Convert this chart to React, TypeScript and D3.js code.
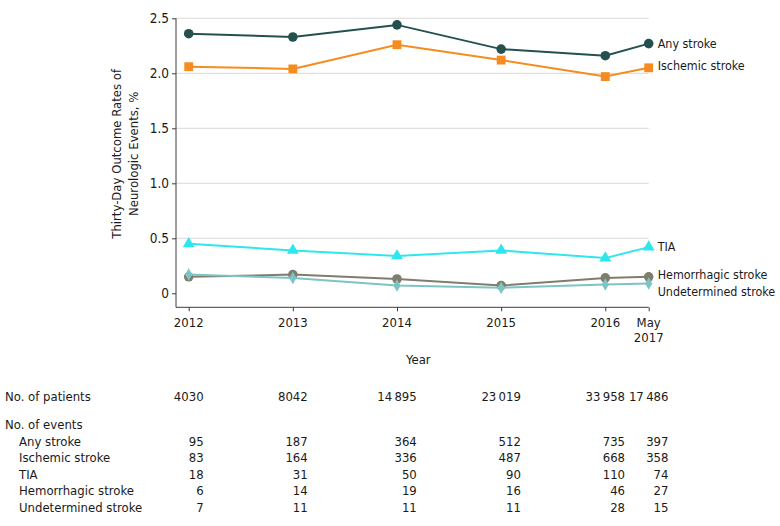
import React, { useEffect, useRef } from "react";
import * as d3 from "d3";

// x positions: calendar years, last point is May 2017
const years = [2012, 2013, 2014, 2015, 2016, 2016 + 5 / 12];
const yearLabels = [["2012"], ["2013"], ["2014"], ["2015"], ["2016"], ["May", "2017"]];
const yTicks = [0, 0.5, 1, 1.5, 2, 2.5];

const seriesNames = ["Any stroke", "Ischemic stroke", "TIA", "Hemorrhagic stroke", "Undetermined stroke"];
const anyStroke = [2.36, 2.33, 2.44, 2.22, 2.16, 2.27];
const ischemicStroke = [2.06, 2.04, 2.26, 2.12, 1.97, 2.05];
const tia = [0.45, 0.39, 0.34, 0.39, 0.32, 0.42];
const hemorrhagicStroke = [0.15, 0.17, 0.13, 0.07, 0.14, 0.15];
const undeterminedStroke = [0.17, 0.14, 0.07, 0.05, 0.08, 0.09];

const patients = ["4030", "8042", "14\u2009895", "23\u2009019", "33\u2009958", "17\u2009486"];
const eventsAny = [95, 187, 364, 512, 735, 397];
const eventsIschemic = [83, 164, 336, 487, 668, 358];
const eventsTia = [18, 31, 50, 90, 110, 74];
const eventsHemorrhagic = [6, 14, 19, 16, 46, 27];
const eventsUndetermined = [7, 11, 11, 11, 28, 15];

const FONT = "'DejaVu Sans Condensed', 'Liberation Sans Narrow', 'DejaVu Sans', sans-serif";

function App() {
  const ref = useRef<SVGSVGElement | null>(null);

  useEffect(() => {
    const svg = d3.select(ref.current);
    svg.selectAll("*").remove();

    const width = 780, height = 526;
    const left = 176, top = 18.3, bottom = 293.3, axisY = 307.3;

    const x = d3.scaleLinear().domain([2012, years[5]]).range([188.7, 648.7]);
    const y = d3.scaleLinear().domain([0, 2.5]).range([bottom, top]);
    const right = x(years[5]);

    const g = svg.append("g").attr("font-family", FONT).attr("fill", "#1a1a1a");

    // grid
    g.append("g")
      .selectAll("line")
      .data(yTicks.filter(d => d > 0))
      .join("line")
      .attr("x1", left).attr("x2", right)
      .attr("y1", d => y(d)).attr("y2", d => y(d))
      .attr("stroke", "#d9d9d9").attr("stroke-width", 1);

    // axes
    const yAxis = d3.axisLeft(y).tickValues(yTicks).tickSize(4).tickPadding(3)
      .tickFormat(d => (d === 0 ? "0" : (+d).toFixed(1)));
    const ya = g.append("g").attr("transform", `translate(${left},0)`).call(yAxis);
    ya.select(".domain").remove();
    ya.selectAll("line").attr("stroke", "#3c3c3c");
    ya.selectAll("text").attr("font-family", FONT).attr("font-size", 13.5).attr("fill", "#1a1a1a");

    const xAxis = d3.axisBottom(x).tickValues(years).tickSize(4).tickFormat(() => "");
    const xa = g.append("g").attr("transform", `translate(0,${axisY})`).call(xAxis);
    xa.select(".domain").remove();
    xa.selectAll("line").attr("stroke", "#3c3c3c");

    g.append("path")
      .attr("d", `M${left},${top}V${axisY}H${right}`)
      .attr("fill", "none").attr("stroke", "#3c3c3c").attr("stroke-width", 1);

    // x tick labels
    years.forEach((yr, i) => {
      yearLabels[i].forEach((t, j) => {
        g.append("text")
          .attr("x", x(yr)).attr("y", 326.5 + j * 15)
          .attr("text-anchor", "middle").attr("font-size", 13)
          .text(t);
      });
    });

    g.append("text")
      .attr("x", (left + right) / 2 + 6).attr("y", 363.5)
      .attr("text-anchor", "middle").attr("font-size", 13)
      .text("Year");

    const yTitle = g.append("text")
      .attr("transform", `translate(0,${(top + bottom) / 2}) rotate(-90)`)
      .attr("text-anchor", "middle").attr("font-size", 13);
    yTitle.append("tspan").attr("x", 0).attr("y", 121).attr("dx", 2).text("Thirty-Day Outcome Rates of");
    yTitle.append("tspan").attr("x", 0).attr("y", 137.5).attr("dx", 2).text("Neurologic Events, %");

    // series
    const series = [
      { name: seriesNames[0], values: anyStroke, color: "#24514f", symbol: d3.symbolCircle, size: 72, nudge: 0 },
      { name: seriesNames[1], values: ischemicStroke, color: "#f68b1f", symbol: d3.symbolSquare, size: 78, nudge: -2.5 },
      { name: seriesNames[2], values: tia, color: "#2de6ee", symbol: d3.symbolTriangle, size: 62, nudge: 0 },
      { name: seriesNames[3], values: hemorrhagicStroke, color: "#7f7d6d", symbol: d3.symbolCircle, size: 72, nudge: -2 },
      { name: seriesNames[4], values: undeterminedStroke, color: "#7dc4c4", symbol: d3.symbolDiamond, size: 45, nudge: 8 },
    ];

    const line = d3.line<number>().x((_, i) => x(years[i])).y(d => y(d));

    series.forEach(s => {
      const sg = g.append("g");
      sg.append("path")
        .datum(s.values)
        .attr("d", line)
        .attr("fill", "none")
        .attr("stroke", s.color)
        .attr("stroke-width", 2);
      sg.selectAll("path.m")
        .data(s.values)
        .join("path")
        .attr("class", "m")
        .attr("transform", (d, i) => `translate(${x(years[i])},${y(d)})`)
        .attr("d", d3.symbol().type(s.symbol).size(s.size)())
        .attr("fill", s.color);
      sg.append("text")
        .attr("x", right + 9)
        .attr("y", y(s.values[5]) + s.nudge)
        .attr("dy", "0.35em")
        .attr("font-size", 12.4)
        .text(s.name);
    });

    // table
    const rowY = 396;
    g.append("text").attr("x", 5).attr("y", rowY).attr("dy", "0.35em").attr("font-size", 13).text("No. of patients");
    g.append("text").attr("x", 5).attr("y", 424.5).attr("dy", "0.35em").attr("font-size", 13).text("No. of events");

    const colRight: number[] = [];
    patients.forEach((p, i) => {
      const t = g.append("text")
        .attr("x", x(years[i])).attr("y", rowY).attr("dy", "0.35em")
        .attr("text-anchor", "middle").attr("font-size", 13)
        .text(p);
      const w = (t.node() as SVGTextElement).getComputedTextLength();
      colRight.push(x(years[i]) + w / 2);
    });

    const eventRows = [eventsAny, eventsIschemic, eventsTia, eventsHemorrhagic, eventsUndetermined];
    eventRows.forEach((row, r) => {
      const ry = 441 + r * 16.6;
      g.append("text").attr("x", 19).attr("y", ry).attr("dy", "0.35em").attr("font-size", 13).text(seriesNames[r]);
      row.forEach((v, i) => {
        g.append("text")
          .attr("x", colRight[i]).attr("y", ry).attr("dy", "0.35em")
          .attr("text-anchor", "end").attr("font-size", 13)
          .text(String(v));
      });
    });

    svg.attr("width", width).attr("height", height);
  }, []);

  return (
    <svg
      ref={ref}
      width={780}
      height={526}
      style={{ position: "absolute", left: 0, top: 0, background: "#fff" }}
    />
  );
}

export default App;
